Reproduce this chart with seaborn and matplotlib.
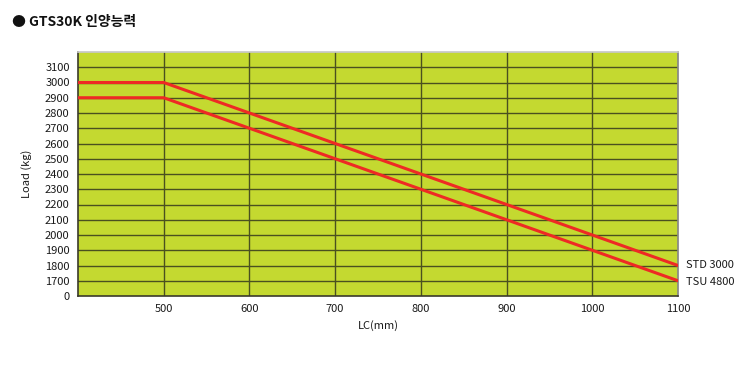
import matplotlib
matplotlib.use("Agg")
import matplotlib.pyplot as plt
import seaborn as sns
import pandas as pd

# Data
lc_mm = [400, 500, 1100]
std_3000 = [3000, 3000, 1800]
tsu_4800 = [2900, 2900, 1700]
series_names = ["STD 3000", "TSU 4800"]
x_ticks = [500, 600, 700, 800, 900, 1000, 1100]
y_tick_values = [1600, 1700, 1800, 1900, 2000, 2100, 2200, 2300, 2400, 2500,
                 2600, 2700, 2800, 2900, 3000, 3100]
y_tick_labels = ["0", "1700", "1800", "1900", "2000", "2100", "2200", "2300",
                 "2400", "2500", "2600", "2700", "2800", "2900", "3000", "3100"]

df = pd.DataFrame({
    "LC": lc_mm * 2,
    "Load": std_3000 + tsu_4800,
    "series": [series_names[0]] * 3 + [series_names[1]] * 3,
})

sns.set_theme(style="white")
plt.rcParams["font.family"] = ["Noto Sans CJK KR", "DejaVu Sans"]

fig = plt.figure(figsize=(7.4, 3.8), dpi=100)
ax = fig.add_axes([78 / 740, 1 - 296 / 380, 600 / 740, 244 / 380])
ax.set_facecolor("#c4d930")

sns.lineplot(data=df, x="LC", y="Load", hue="series",
             palette=["#ee2a24", "#ee2a24"], linewidth=2.2, legend=False,
             ax=ax, zorder=5)

ax.set_xlim(400, 1100)
ax.set_ylim(1600, 3200)
ax.set_xticks(x_ticks)
ax.set_xticklabels([str(v) for v in x_ticks])
ax.set_yticks(y_tick_values)
ax.set_yticklabels(y_tick_labels)
ax.tick_params(axis="both", labelsize=8, length=0, pad=6, colors="#1a1a1a")

grid_c = "#4a5020"
for v in x_ticks[:-1]:
    ax.axvline(v, color=grid_c, lw=1.0, zorder=2)
for v in y_tick_values[1:]:
    ax.axhline(v, color=grid_c, lw=1.0, zorder=2)

for side in ["left", "bottom"]:
    ax.spines[side].set_color("#3a3a2a")
    ax.spines[side].set_linewidth(1.2)
ax.spines["top"].set_color("#c8c8c8")
ax.spines["right"].set_color("#888888")

ax.set_xlabel("LC(mm)", fontsize=8, color="#1a1a1a", labelpad=4)
ax.set_ylabel("Load (kg)", fontsize=8, color="#1a1a1a", labelpad=9)

# End labels
ax.annotate(series_names[0], xy=(lc_mm[-1], std_3000[-1]), xytext=(6, 0),
            textcoords="offset points", va="center", ha="left", fontsize=8,
            color="#1a1a1a", annotation_clip=False)
ax.annotate(series_names[1], xy=(lc_mm[-1], tsu_4800[-1]), xytext=(6, -1),
            textcoords="offset points", va="center", ha="left", fontsize=8,
            color="#1a1a1a", annotation_clip=False)

fig.text(12 / 740, 1 - 22 / 380, "● GTS30K 인양능력", fontsize=10,
         fontweight="bold", va="center", ha="left", color="#111111")

fig.savefig("out.png", dpi=100)
